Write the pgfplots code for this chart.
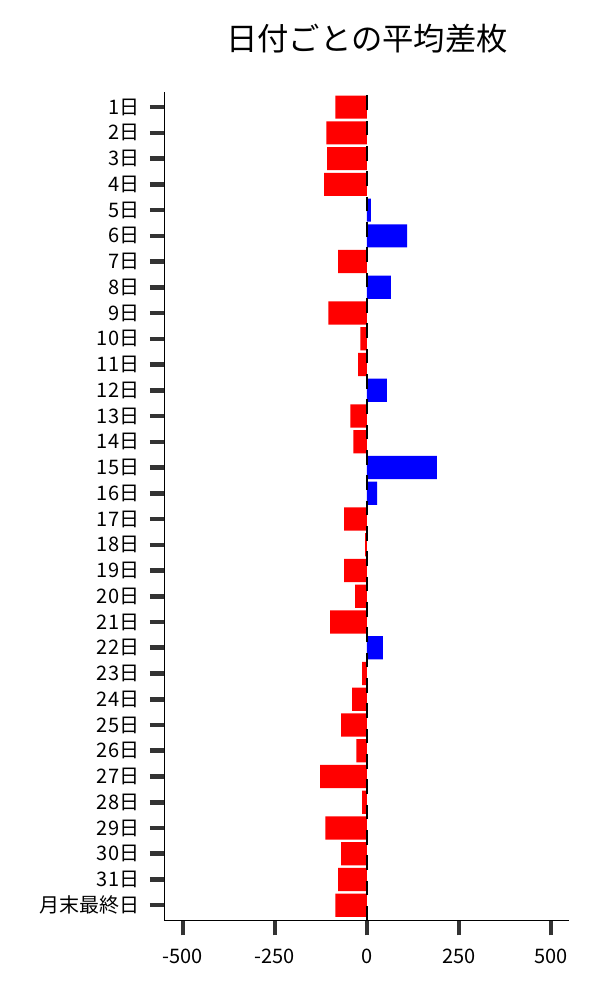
\documentclass[border=0pt]{standalone}
\usepackage{fontspec}
\setmainfont{Noto Sans CJK JP}
\usepackage{pgfplots}
\usepackage{pgfplotstable}
\pgfplotsset{compat=1.18}

% position (0 = bottom row) and mean difference
\pgfplotstableread{
pos val
31 -86
30 -110
29 -108
28 -116
25 -78
23 -105
22 -18
21 -24
19 -45
18 -37
15 -62
14 -5
13 -62
12 -32
11 -100
9 -13
8 -40
7 -70
6 -29
5 -127
4 -13
3 -113
2 -70
1 -78
0 -86
}\negdata
\pgfplotstableread{
pos val
27 11
26 109
24 65
20 54
17 190
16 28
10 43
}\posdata

\begin{document}
\begin{tikzpicture}
\path[use as bounding box] (-123.4pt,-59.5pt) rectangle (326.6pt,690.5pt);
\begin{axis}[
  at={(0,0)}, anchor=south west,
  scale only axis,
  width=303.6pt, height=621.75pt,
  xmin=-550, xmax=550,
  ymin=-0.6, ymax=31.6,
  axis x line*=bottom, axis y line*=left,
  axis line style={-, line width=1pt, black},
  xtick={-500,-250,0,250,500},
  ytick={0,...,31},
  yticklabels={月末最終日,31日,30日,29日,28日,27日,26日,25日,24日,23日,22日,21日,20日,19日,18日,17日,16日,15日,14日,13日,12日,11日,10日,9日,8日,7日,6日,5日,4日,3日,2日,1日},
  tick align=outside,
  major tick length=11pt,
  tick style={line width=3.4pt, black!80},
  ticklabel style={font=\fontsize{15}{18}\selectfont},
  xticklabel style={yshift=-6.5pt},
  yticklabel style={xshift=-4.5pt},
  /pgf/number format/assume math mode=true,
  title={日付ごとの平均差枚},
  title style={font=\fontsize{23.5}{28}\selectfont, at={(0.5,1)}, anchor=base, yshift=25pt},
  xbar, bar width=0.9,
]
\addplot[xbar, bar shift=0pt, fill=red, draw=none] table[x=val, y=pos] {\negdata};
\addplot[xbar, bar shift=0pt, fill=blue, draw=none] table[x=val, y=pos] {\posdata};
\addplot[black, line width=1.5pt, dash pattern=on 11pt off 8pt, sharp plot] coordinates {(0,-0.6) (0,31.6)};
\end{axis}
\end{tikzpicture}
\end{document}
